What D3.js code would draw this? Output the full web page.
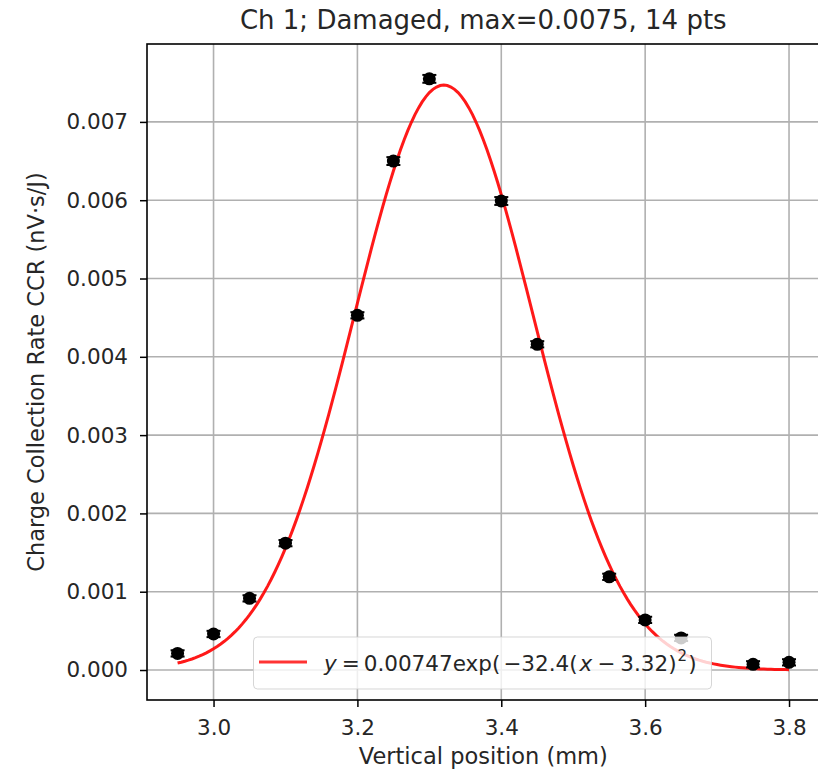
<!DOCTYPE html>
<html>
<head>
<meta charset="utf-8">
<script src="https://cdn.jsdelivr.net/npm/d3@7"></script>
<style>
  body { margin: 0; background: #fff; }
  text { font-family: "DejaVu Sans", sans-serif; fill: #262626; }
</style>
</head>
<body>
<div id="chart"></div>
<script>
// measured points (vertical position in mm, CCR in nV.s/J)
var positions = [2.95, 3.00, 3.05, 3.10, 3.20, 3.25, 3.30, 3.40, 3.45, 3.55, 3.60, 3.65, 3.75, 3.80];
var ccr = [0.000212, 0.00046, 0.000915, 0.00162, 0.00453, 0.0065, 0.00755, 0.00599, 0.00416, 0.00119, 0.00064, 0.00041, 0.000073, 0.000098];
var ccrErr = [0.00004, 0.00004, 0.00004, 0.00004, 0.00004, 0.00005, 0.00005, 0.00005, 0.00004, 0.00004, 0.00004, 0.00004, 0.00004, 0.00004];

// gaussian fit parameters (from the legend)
var fitAmp = 0.00747, fitK = 32.4, fitMu = 3.32;

var xTicks = [3.0, 3.2, 3.4, 3.6, 3.8];
var yTicks = [0, 0.001, 0.002, 0.003, 0.004, 0.005, 0.006, 0.007];

var titleText = "Ch 1; Damaged, max=0.0075, 14 pts";

var W = 818, H = 770;
var pLeft = 147, pRight = 819.6, pTop = 44, pBottom = 700;

var svg = d3.select("#chart").append("svg")
    .attr("width", W)
    .attr("height", H);

var x = d3.scaleLinear().domain([2.9075, 3.8425]).range([pLeft, pRight]);
var y = d3.scaleLinear().domain([-0.000383, 0.007995]).range([pBottom, pTop]);

// grid
svg.append("g")
    .selectAll("line")
    .data(xTicks).enter()
    .append("line")
    .attr("x1", d => x(d)).attr("x2", d => x(d))
    .attr("y1", pTop).attr("y2", pBottom)
    .attr("stroke", "#b0b0b0").attr("stroke-width", 1.6);
svg.append("g")
    .selectAll("line")
    .data(yTicks).enter()
    .append("line")
    .attr("x1", pLeft).attr("x2", pRight)
    .attr("y1", d => y(d)).attr("y2", d => y(d))
    .attr("stroke", "#b0b0b0").attr("stroke-width", 1.6);

// fit curve
var fitX = d3.range(positions[0], positions[positions.length - 1] + 1e-9, 0.005);
var line = d3.line()
    .x(d => x(d))
    .y(d => y(fitAmp * Math.exp(-fitK * (d - fitMu) * (d - fitMu))));
svg.append("path")
    .datum(fitX)
    .attr("d", line)
    .attr("fill", "none")
    .attr("stroke", "#ff0000")
    .attr("stroke-opacity", 0.9)
    .attr("stroke-width", 3);

// points with error bars
var pts = svg.append("g")
    .selectAll("g")
    .data(positions).enter()
    .append("g");
pts.append("line")
    .attr("x1", d => x(d)).attr("x2", d => x(d))
    .attr("y1", (d, i) => y(ccr[i] - ccrErr[i]))
    .attr("y2", (d, i) => y(ccr[i] + ccrErr[i]))
    .attr("stroke", "#000").attr("stroke-width", 2);
pts.append("circle")
    .attr("cx", d => x(d))
    .attr("cy", (d, i) => y(ccr[i]))
    .attr("r", 6.5)
    .attr("fill", "#000");
[-1, 1].forEach(function(s) {
    pts.append("line")
        .attr("x1", d => x(d) - 7).attr("x2", d => x(d) + 7)
        .attr("y1", (d, i) => y(ccr[i] + s * ccrErr[i]))
        .attr("y2", (d, i) => y(ccr[i] + s * ccrErr[i]))
        .attr("stroke", "#000").attr("stroke-width", 2);
});

// axes
var xAxis = svg.append("g")
    .attr("transform", "translate(0," + pBottom + ")")
    .call(d3.axisBottom(x).tickValues(xTicks).tickFormat(d3.format(".1f")).tickSizeOuter(0).tickSize(7).tickPadding(13));
var yAxis = svg.append("g")
    .attr("transform", "translate(" + pLeft + ",0)")
    .call(d3.axisLeft(y).tickValues(yTicks).tickFormat(d3.format(".3f")).tickSizeOuter(0).tickSize(7).tickPadding(12));
[xAxis, yAxis].forEach(function(a) {
    a.select(".domain").remove();
    a.selectAll(".tick line").attr("stroke", "#000").attr("stroke-width", 1.5);
    a.selectAll(".tick text").attr("font-size", 21.5).attr("fill", "#262626")
        .style("font-family", "'DejaVu Sans', sans-serif");
});

// frame
svg.append("rect")
    .attr("x", pLeft).attr("y", pTop)
    .attr("width", pRight - pLeft).attr("height", pBottom - pTop)
    .attr("fill", "none").attr("stroke", "#000").attr("stroke-width", 1.6);

// legend
var lg = svg.append("g");
lg.append("rect")
    .attr("x", 253.5).attr("y", 637)
    .attr("width", 458).attr("height", 52)
    .attr("rx", 4)
    .attr("fill", "#fff").attr("fill-opacity", 0.8)
    .attr("stroke", "#cccccc").attr("stroke-opacity", 0.8);
lg.append("line")
    .attr("x1", 259).attr("x2", 307)
    .attr("y1", 662).attr("y2", 662)
    .attr("stroke", "#ff0000").attr("stroke-opacity", 0.8).attr("stroke-width", 3);
var lt = lg.append("text")
    .attr("x", 324).attr("y", 670.5)
    .attr("font-size", 21.5);
lt.append("tspan").attr("font-style", "italic").text("y");
lt.append("tspan").attr("dx", 5).text("=");
lt.append("tspan").attr("dx", 4).text("0.00747exp(");
lt.append("tspan").attr("dx", 3).text("\u221232.4(");
lt.append("tspan").attr("dx", 2).attr("font-style", "italic").text("x");
lt.append("tspan").attr("dx", 5).text("\u2212");
lt.append("tspan").attr("dx", 5).text("3.32)");
lt.append("tspan").attr("dx", 1).attr("dy", -9.5).attr("font-size", 15).text("2");
lt.append("tspan").attr("dx", 1).attr("dy", 9.5).text(")");

// titles
svg.append("text")
    .attr("x", (pLeft + pRight) / 2).attr("y", 29)
    .attr("text-anchor", "middle")
    .attr("font-size", 26)
    .text(titleText);
svg.append("text")
    .attr("x", (pLeft + pRight) / 2).attr("y", 764)
    .attr("text-anchor", "middle")
    .attr("font-size", 22.5)
    .text("Vertical position (mm)");
svg.append("text")
    .attr("transform", "translate(44," + ((pTop + pBottom) / 2) + ")rotate(-90)")
    .attr("text-anchor", "middle")
    .attr("font-size", 22.5)
    .text("Charge Collection Rate CCR (nV\u00b7s/J)");
</script>
</body>
</html>
